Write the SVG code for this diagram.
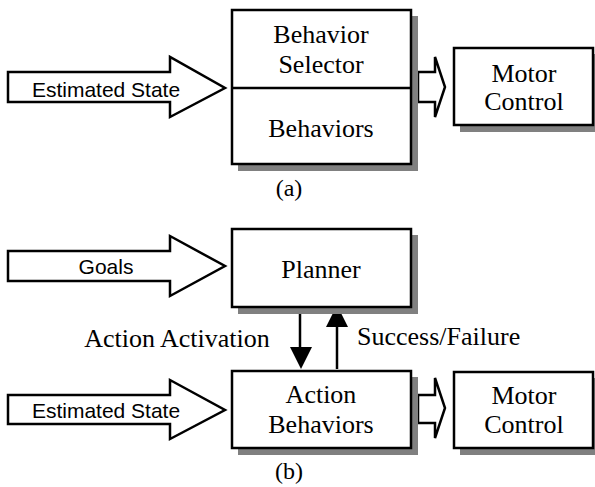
<svg xmlns="http://www.w3.org/2000/svg" width="595" height="487" viewBox="0 0 595 487">
<style>
.box{fill:#fff;stroke:#000;stroke-width:2.5}
.fat{fill:#fff;stroke:#000;stroke-width:2.5;stroke-linejoin:miter}
.sans{font-family:"Liberation Sans",Arial,sans-serif;font-size:21px;text-anchor:middle}
.serif{font-family:"Liberation Serif","Times New Roman",serif;font-size:26px;text-anchor:middle}
.line{stroke:#000;stroke-width:2.5;fill:none}
</style>
<rect width="595" height="487" fill="#ffffff"/>

<g id="connectors">
<polygon class="fat" points="8,72 170,72 170,57 225,88 170,117 170,102 8,102"/>
<text class="sans" x="106" y="97">Estimated State</text>
<polygon class="fat" points="418,72 435,72 435,57 445,87 435,117 435,102 418,102"/>
<polygon class="fat" points="8,251 170,251 170,236 225,266 170,296 170,281 8,281"/>
<text class="sans" x="106" y="274">Goals</text>
<polygon class="fat" points="8,395 170,395 170,380 225,410 170,439 170,424 8,424"/>
<text class="sans" x="106" y="418">Estimated State</text>
<polygon class="fat" points="418,395 435,395 435,378 445,408 435,438 435,423 418,423"/>
<line class="line" x1="300" y1="309" x2="300" y2="347"/>
<polygon points="290,347 312,347 301,369" fill="#000"/>
<line class="line" x1="337" y1="369" x2="337" y2="326"/>
<polygon points="326,327 348,327 337,305" fill="#000"/>
<text class="serif" x="177" y="347">Action Activation</text>
<text class="serif" x="357" y="345" style="text-anchor:start">Success/Failure</text>
</g>

<g id="behavior-box">
<rect x="412" y="16" width="6" height="155" fill="gray"/>
<rect x="238" y="165" width="180" height="6" fill="gray"/>
<rect class="box" x="232" y="10" width="179" height="154"/>
<line class="line" x1="232" y1="88" x2="411" y2="88"/>
<text class="serif" x="321" y="43">Behavior</text>
<text class="serif" x="321" y="73">Selector</text>
<text class="serif" x="321" y="137">Behaviors</text>
</g>

<g id="motor-a">
<rect x="594" y="54" width="6" height="78" fill="gray"/>
<rect x="460" y="126" width="140" height="6" fill="gray"/>
<rect class="box" x="454" y="48" width="139" height="77"/>
<text class="serif" x="524" y="82">Motor</text>
<text class="serif" x="524" y="110">Control</text>
</g>

<text class="serif" x="289" y="196" style="font-size:24px">(a)</text>

<g id="planner">
<rect x="412" y="235" width="6" height="79" fill="gray"/>
<rect x="238" y="308" width="180" height="6" fill="gray"/>
<rect class="box" x="232" y="229" width="179" height="78"/>
<text class="serif" x="321" y="278">Planner</text>
</g>

<g id="action-behaviors">
<rect x="412" y="377" width="6" height="78" fill="gray"/>
<rect x="238" y="449" width="180" height="6" fill="gray"/>
<rect class="box" x="232" y="371" width="179" height="77"/>
<text class="serif" x="321" y="403">Action</text>
<text class="serif" x="321" y="433">Behaviors</text>
</g>

<g id="motor-b">
<rect x="594" y="378" width="6" height="77" fill="gray"/>
<rect x="460" y="449" width="140" height="6" fill="gray"/>
<rect class="box" x="454" y="372" width="139" height="76"/>
<text class="serif" x="524" y="404">Motor</text>
<text class="serif" x="524" y="433">Control</text>
</g>

<text class="serif" x="289" y="479" style="font-size:24px">(b)</text>
</svg>
